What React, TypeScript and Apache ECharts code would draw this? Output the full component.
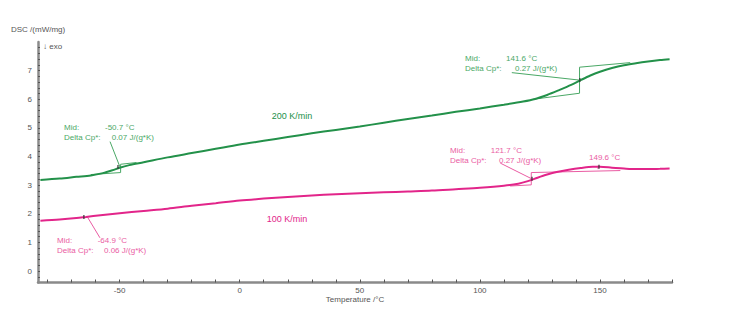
import React, { useEffect, useRef } from "react";
import * as echarts from "echarts";

const temps200 = [-83, -75, -68, -62, -57, -53, -50, -46, -40, -30, -20, -10, 0, 10, 20, 30, 40, 50, 60, 70, 80, 90, 100, 110, 118, 123, 128, 133, 138, 142, 146, 150, 155, 160, 165, 170, 175, 179];
const dsc200 = [3.18, 3.23, 3.29, 3.34, 3.42, 3.52, 3.61, 3.70, 3.80, 3.97, 4.12, 4.27, 4.42, 4.55, 4.68, 4.81, 4.93, 5.05, 5.18, 5.31, 5.43, 5.56, 5.68, 5.81, 5.92, 6.01, 6.15, 6.32, 6.50, 6.67, 6.83, 6.96, 7.09, 7.19, 7.26, 7.32, 7.37, 7.40];

const temps100 = [-83, -75, -68, -64, -58, -50, -40, -30, -20, -10, 0, 10, 20, 30, 40, 50, 60, 70, 80, 90, 100, 110, 116, 120, 124, 128, 132, 137, 142, 147, 150, 155, 160, 165, 170, 175, 179];
const dsc100 = [1.76, 1.80, 1.85, 1.89, 1.95, 2.02, 2.10, 2.18, 2.28, 2.37, 2.46, 2.53, 2.59, 2.64, 2.68, 2.72, 2.75, 2.78, 2.81, 2.86, 2.91, 2.98, 3.05, 3.14, 3.26, 3.37, 3.46, 3.54, 3.60, 3.64, 3.64, 3.61, 3.58, 3.56, 3.56, 3.57, 3.58];

const xLabelValues = [-50, 0, 50, 100, 150];
const xTickValues = [-80, -70, -60, -50, -40, -30, -20, -10, 0, 10, 20, 30, 40, 50, 60, 70, 80, 90, 100, 110, 120, 130, 140, 150, 160, 170, 180];
const yLabelValues = [0, 1, 2, 3, 4, 5, 6, 7];
const yTickValues = [-0.2, 0, 0.2, 0.4, 0.6, 0.8, 1, 1.2, 1.4, 1.6, 1.8, 2, 2.2, 2.4, 2.6, 2.8, 3, 3.2, 3.4, 3.6, 3.8, 4, 4.2, 4.4, 4.6, 4.8, 5, 5.2, 5.4, 5.6, 5.8, 6, 6.2, 6.4, 6.6, 6.8, 7, 7.2, 7.4, 7.6, 7.8];

// evaluation construction lines (data coordinates)
const greenEvalLines: number[][][] = [
  [[-62, 3.37], [-49.6, 3.44]],
  [[-49.6, 3.44], [-49.6, 3.73]],
  [[-49.6, 3.73], [-43, 3.79]],
  [[-54.0, 4.52], [-49.9, 3.64]],
  [[122.2, 6.0], [141.5, 6.21]],
  [[141.5, 6.21], [141.5, 7.12]],
  [[141.5, 7.12], [162.6, 7.28]],
  [[113.3, 6.93], [141.4, 6.67]],
];
const pinkEvalLines: number[][][] = [
  [[112.6, 2.97], [121.4, 3.01]],
  [[121.4, 3.01], [121.4, 3.44]],
  [[121.4, 3.44], [158.5, 3.51]],
  [[108.5, 3.77], [121.4, 3.23]],
  [[-58.2, 1.16], [-63.5, 1.9]],
  [[149.2, 3.56], [149.2, 3.68]],
];
const midPoints200 = [[-50.7, 3.63], [141.6, 6.67]];
const midPoints100 = [[-64.9, 1.89], [121.7, 3.22], [149.6, 3.64]];

const GREEN = "#23914a";
const GREEN_LIGHT = "#4aa866";
const PINK = "#e2258a";
const PINK_LIGHT = "#ea5ca3";
const FONT = "Liberation Sans, Arial, sans-serif";

function txt(x: number, y: number, text: string, fill: string, size = 8, align = "left") {
  return {
    type: "text",
    x,
    y,
    silent: true,
    style: { text, fill, font: `${size}px ${FONT}`, textAlign: align, textVerticalAlign: "middle" },
  };
}

export default function App() {
  const ref = useRef<HTMLDivElement>(null);
  useEffect(() => {
    if (!ref.current) return;
    const chart = echarts.init(ref.current, undefined, { renderer: "svg" });
    const lineSeries = (data: number[][], color: string, width: number) => ({
      type: "line",
      data,
      symbol: "none",
      smooth: 0.3,
      silent: true,
      lineStyle: { color, width },
      z: 3,
    });
    const evalSeries = (seg: number[][], color: string) => ({
      type: "line",
      data: seg,
      symbol: "none",
      silent: true,
      lineStyle: { color, width: 1 },
      z: 2,
    });
    chart.setOption({
      animation: false,
      grid: { left: 38, right: 70, top: 42, bottom: 39.5, containLabel: false },
      xAxis: {
        type: "value",
        min: -84,
        max: 180,
        axisLine: { show: true, onZero: false, lineStyle: { color: "#8a8a8a", width: 2.5 } },
        axisTick: { show: true, inside: true, length: 3, customValues: xTickValues, lineStyle: { color: "#555", width: 1 } },
        axisLabel: { customValues: xLabelValues, color: "#555", fontSize: 8, fontFamily: FONT, margin: 4 },
        splitLine: { show: false },
      },
      yAxis: {
        type: "value",
        min: -0.4,
        max: 8,
        axisLine: { show: true, onZero: false, lineStyle: { color: "#8a8a8a", width: 2.5 } },
        axisTick: { show: true, inside: true, length: 2, customValues: yTickValues, lineStyle: { color: "#555", width: 1 } },
        axisLabel: { customValues: yLabelValues, color: "#555", fontSize: 8, fontFamily: FONT, margin: 6 },
        splitLine: { show: false },
      },
      series: [
        ...greenEvalLines.map((s) => evalSeries(s, GREEN_LIGHT)),
        ...pinkEvalLines.map((s) => evalSeries(s, PINK_LIGHT)),
        lineSeries(temps200.map((t, i) => [t, dsc200[i]]), GREEN, 2),
        lineSeries(temps100.map((t, i) => [t, dsc100[i]]), PINK, 2),
        {
          type: "scatter",
          data: [...midPoints200, ...midPoints100],
          symbol: "rect",
          symbolSize: [1.5, 4],
          itemStyle: { color: "#333" },
          silent: true,
          z: 4,
        },
      ],
      graphic: [
        txt(11, 29, "DSC /(mW/mg)", "#555"),
        txt(43, 46, "↓ exo", "#555"),
        txt(355, 299, "Temperature /°C", "#555", 8, "center"),
        txt(292, 116, "200 K/min", GREEN, 9, "center"),
        txt(287, 219, "100 K/min", PINK, 9, "center"),
        txt(64, 127, "Mid:", GREEN_LIGHT),
        txt(105, 127, "-50.7 °C", GREEN_LIGHT),
        txt(64, 137, "Delta Cp*:", GREEN_LIGHT),
        txt(111.7, 137, "0.07 J/(g*K)", GREEN_LIGHT),
        txt(465, 58, "Mid:", GREEN_LIGHT),
        txt(506, 58, "141.6 °C", GREEN_LIGHT),
        txt(465, 68.5, "Delta Cp*:", GREEN_LIGHT),
        txt(515, 68.5, "0.27 J/(g*K)", GREEN_LIGHT),
        txt(450, 150, "Mid:", PINK_LIGHT),
        txt(490.7, 150, "121.7 °C", PINK_LIGHT),
        txt(450, 160, "Delta Cp*:", PINK_LIGHT),
        txt(499, 160, "0.27 J/(g*K)", PINK_LIGHT),
        txt(589, 157, "149.6 °C", PINK_LIGHT),
        txt(57, 240.7, "Mid:", PINK_LIGHT),
        txt(97.7, 240.7, "-64.9 °C", PINK_LIGHT),
        txt(57, 250, "Delta Cp*:", PINK_LIGHT),
        txt(104, 250, "0.06 J/(g*K)", PINK_LIGHT),
      ],
    });
    return () => chart.dispose();
  }, []);
  return (
    <div
      ref={ref}
      style={{ position: "absolute", left: 0, top: 0, width: 742, height: 322, background: "#fff" }}
    />
  );
}
